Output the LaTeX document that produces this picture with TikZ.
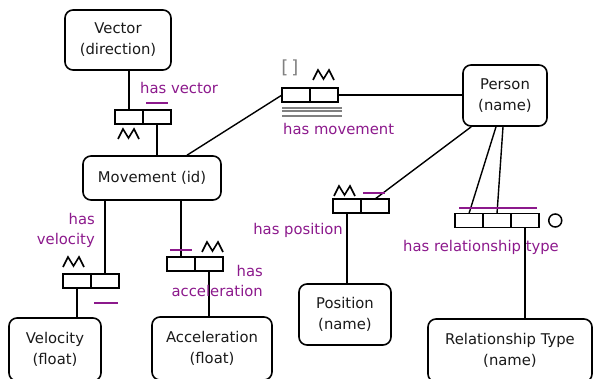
\documentclass[tikz,border=0pt]{standalone}
\usepackage{fontspec}
\setmainfont{DejaVu Sans}
\usetikzlibrary{positioning}
\definecolor{rolepurple}{RGB}{140,25,140}
\tikzset{
  entity/.style={draw, rounded corners=8pt, line width=1.6pt, align=center, text=black!90,
    font=\fontsize{14.8}{21}\selectfont},
  role/.style={draw, line width=1.6pt, minimum width=28pt, minimum height=14pt, inner sep=0pt, outer sep=0pt},
  link/.style={line width=1.4pt},
  uc/.style={rolepurple, line width=2pt},
  factname/.style={text=rolepurple, inner sep=0pt, font=\fontsize{14.8}{20}\selectfont},
  zigzag/.pic={\draw[line width=1.6pt] (0,0) -- (5,-10) -- (10.5,-1) -- (16,-10) -- (21,0);}
}

\begin{document}
\begin{tikzpicture}[x=1pt,y=-1pt]
  \useasboundingbox (0,0) rectangle (593,379);
  % object types
  \node[entity, minimum width=106pt, minimum height=60pt] (vector) at (118,40) {Vector\\(direction)};
  \node[entity, minimum width=138pt, minimum height=44pt] (movement) at (152,178) {Movement (id)};
  \node[entity, minimum width=84pt, minimum height=61pt] (person) at (505,95.5) {Person\\(name)};
  \node[entity, minimum width=92pt, minimum height=61pt] (position) at (345,314.5) {Position\\(name)};
  \node[entity, minimum width=164pt, minimum height=63pt] (reltype) at (510,350.5) {Relationship Type\\(name)};
  \node[entity, minimum width=92pt, minimum height=63pt] (velocity) at (55,349.5) {Velocity\\(float)};
  \node[entity, minimum width=120pt, minimum height=63pt] (accel) at (212,348.5) {Acceleration\\(float)};

  % fact types
  \node[role] (hv1) at (129,117) {};
  \node[role, right=0pt of hv1] (hv2) {};
  \node[role] (hm1) at (296,95) {};
  \node[role, right=0pt of hm1] (hm2) {};
  \node[role] (hp1) at (347,206) {};
  \node[role, right=0pt of hp1] (hp2) {};
  \node[role] (hr1) at (469,220.5) {};
  \node[role, right=0pt of hr1] (hr2) {};
  \node[role, right=0pt of hr2] (hr3) {};
  \node[role] (hvel1) at (77,281) {};
  \node[role, right=0pt of hvel1] (hvel2) {};
  \node[role] (ha1) at (181,264) {};
  \node[role, right=0pt of ha1] (ha2) {};
  \node[draw, circle, line width=1.5pt, minimum size=13pt, inner sep=0pt, right=9pt of hr3] (hrextra) {};

  % links
  \draw[link] (hv1.north) -- (hv1.north |- vector.south);
  \draw[link] (hv2.south) -- (hv2.south |- movement.north);
  \draw[link] ([xshift=35pt]movement.north) -- (hm1.west);
  \draw[link] (hm2.east) -- (hm2.east -| person.west);
  \draw[link] ([xshift=9pt]person.south west) -- (hp2.north);
  \draw[link] (hp1.south) -- (hp1.south |- position.north);
  \draw[link] ([xshift=-9pt]person.south) -- (hr1.north);
  \draw[link] ([xshift=-2pt]person.south) -- (hr2.north);
  \draw[link] (hr3.south) -- (hr3.south |- reltype.north);
  \draw[link] (hvel2.north) -- (hvel2.north |- movement.south);
  \draw[link] (hvel1.south) -- (hvel1.south |- velocity.north);
  \draw[link] (ha1.north) -- (ha1.north |- movement.south);
  \draw[link] (ha2.south) -- (ha2.south |- accel.north);

  % fact type names
  \node[factname, anchor=west] (hvname) at (140,88) {has vector};
  \node[factname, anchor=west] (hmname) at (283,129) {has movement};
  \node[factname, anchor=east] (hpname) at (343,230) {has position};
  \node[factname, anchor=west] (hrname) at (403,247) {has relationship type};
  \node[factname, anchor=east, align=right] (hvelname) at (95,230) {has\\velocity};
  \node[factname, anchor=east, align=right] (haname) at (263,280.5) {has\\acceleration};

  % uniqueness bars
  \draw[uc] ([xshift=3pt,yshift=7pt]hv2.north west) -- ([xshift=-3pt,yshift=7pt]hv2.north east);
  \draw[uc] ([xshift=2pt,yshift=6pt]hp2.north west) -- ([xshift=-4pt,yshift=6pt]hp2.north east);
  \draw[uc] ([xshift=3pt,yshift=7pt]ha1.north west) -- ([xshift=-3pt,yshift=7pt]ha1.north east);
  \draw[uc] ([xshift=3pt,yshift=-15pt]hvel2.south west) -- ([xshift=-1pt,yshift=-15pt]hvel2.south east);
  \draw[uc] ([xshift=4pt,yshift=6pt]hr1.north west) -- ([xshift=-2pt,yshift=6pt]hr3.north east);

  % zigzag marks
  \pic at ([xshift=3pt,yshift=-15pt]hv1.south west) {zigzag};
  \pic at ([xshift=3pt,yshift=8pt]hm2.north west) {zigzag};
  \pic at ([xshift=1pt,yshift=3pt]hp1.north west) {zigzag};
  \pic at ([yshift=7pt]hvel1.north west) {zigzag};
  \pic at ([xshift=7pt,yshift=5pt]ha2.north west) {zigzag};

  % movement frequency
  \node[text=gray, inner sep=0pt, font=\fontsize{18}{20}\selectfont] (hmfreq) at ([xshift=-6pt,yshift=20pt]hm1.north) {[\,]};
  \foreach \dy in {6,9,14}
    \draw[gray, line width=1.3pt] ([yshift=-\dy pt]hm1.south west) -- ([xshift=4pt,yshift=-\dy pt]hm2.south east);
\end{tikzpicture}
\end{document}
